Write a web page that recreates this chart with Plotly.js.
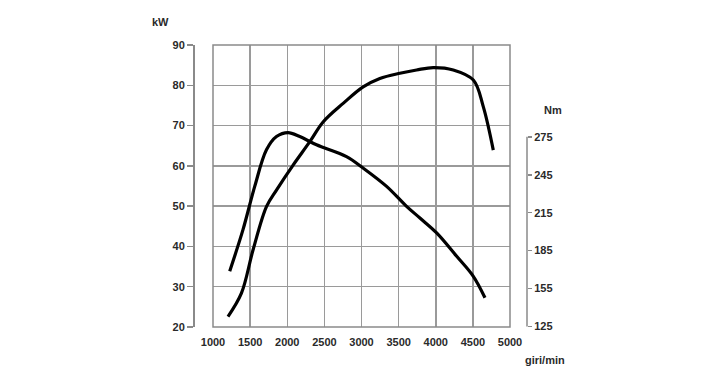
<!DOCTYPE html>
<html>
<head>
<meta charset="utf-8">
<script src="https://cdn.plot.ly/plotly-3.0.1.min.js"></script>
<style>html,body{margin:0;padding:0;background:#fff;}#chart{width:726px;height:369px;}</style>
</head>
<body>
<div id="chart"></div>
<script>
// Power curve (kW)
var powerRpm = [1202, 1383, 1539, 1720, 1855, 2079, 2304, 2483, 2753, 3022, 3247, 3517, 3742, 3966, 4236, 4506, 4640, 4775];
var powerKw  = [22.6, 28.4, 39.1, 49.9, 54.0, 60.2, 66.0, 70.9, 75.5, 79.6, 81.7, 83.0, 83.8, 84.4, 83.8, 81.3, 74.7, 63.9];
// Torque curve (Nm)
var torqueRpm = [1225, 1404, 1562, 1720, 1855, 2011, 2169, 2394, 2798, 3022, 3338, 3607, 3787, 4012, 4282, 4506, 4663];
var torqueNm  = [168.7, 201.6, 235.8, 264.7, 275.2, 278.4, 275.2, 268.7, 259.4, 250.3, 235.8, 220.0, 210.8, 199.0, 180.5, 164.7, 147.7];
// Tick labels
var rpmTicks = [1000, 1500, 2000, 2500, 3000, 3500, 4000, 4500, 5000];
var kwTicks = [20, 30, 40, 50, 60, 70, 80, 90];
var nmTicks = [125, 155, 185, 215, 245, 275];

var W = 726, H = 369;
var xL = 213, xR = 510, yT = 45, yB = 327;
var xDom = [xL / W, xR / W];
var yDom = [1 - yB / H, 1 - yT / H];
var font = {family: 'Liberation Sans Narrow, Liberation Sans, Arial, sans-serif', size: 11, color: '#2a2a2a', weight: 'bold'};
var grid = '#9a9a9a';

var traces = [
  {x: powerRpm, y: powerKw, type: 'scatter', mode: 'lines', xaxis: 'x', yaxis: 'y',
   line: {color: '#000', width: 3.2, shape: 'spline', smoothing: 1}, hoverinfo: 'skip'},
  {x: torqueRpm, y: torqueNm, type: 'scatter', mode: 'lines', xaxis: 'x', yaxis: 'y2',
   line: {color: '#000', width: 3.2, shape: 'spline', smoothing: 1}, hoverinfo: 'skip'}
];

var layout = {
  width: W, height: H,
  margin: {l: 0, r: 0, t: 0, b: 0},
  paper_bgcolor: '#fff', plot_bgcolor: '#fff',
  showlegend: false,
  font: font,
  xaxis: {
    domain: xDom, range: [1000, 5000], tickvals: rpmTicks,
    ticktext: rpmTicks.map(String),
    showgrid: true, gridcolor: grid, gridwidth: 1.5,
    zeroline: false, showline: false, ticks: '', ticklen: 0, ticklabelstandoff: 7,
    tickfont: font, automargin: false, fixedrange: true
  },
  yaxis: {
    domain: yDom, range: [20, 90], tickvals: kwTicks,
    anchor: 'free', position: 193 / W, side: 'left',
    showgrid: true, gridcolor: grid, gridwidth: 1.5,
    zeroline: false, showline: true, linecolor: '#8a8a8a', linewidth: 1.5,
    ticks: 'outside', ticklen: 6, tickwidth: 1.5, tickcolor: '#8a8a8a',
    tickfont: font, automargin: false, fixedrange: true
  },
  yaxis2: {
    domain: yDom, overlaying: 'y', range: [125 - 0.5/1.2667, 275 + (137 - yT) / 1.2667],
    tickvals: nmTicks, anchor: 'free', position: 527 / W, side: 'right',
    showgrid: false, zeroline: false, showline: false,
    ticks: 'outside', ticklen: 4, tickwidth: 1.5, tickcolor: '#8a8a8a',
    tickfont: font, automargin: false, fixedrange: true
  },
  shapes: [
    {type: 'rect', xref: 'paper', yref: 'paper', x0: xDom[0], x1: xDom[1], y0: yDom[0], y1: yDom[1],
     line: {color: '#8a8a8a', width: 1.5}, layer: 'above'},
    {type: 'line', xref: 'paper', yref: 'y2', x0: 527 / W, x1: 527 / W, y0: 125, y1: 275,
     line: {color: '#8a8a8a', width: 1.5}}
  ],
  annotations: [
    {text: 'kW', xref: 'paper', yref: 'paper', x: 160 / W, y: 1 - 22 / H, showarrow: false,
     font: font, xanchor: 'center', yanchor: 'middle'},
    {text: 'Nm', xref: 'paper', yref: 'paper', x: 553 / W, y: 1 - 110 / H, showarrow: false,
     font: font, xanchor: 'center', yanchor: 'middle'},
    {text: 'giri/min', xref: 'paper', yref: 'paper', x: 545 / W, y: 1 - 360 / H, showarrow: false,
     font: font, xanchor: 'center', yanchor: 'middle'}
  ]
};

Plotly.newPlot('chart', traces, layout, {displayModeBar: false, staticPlot: true});
</script>
</body>
</html>
